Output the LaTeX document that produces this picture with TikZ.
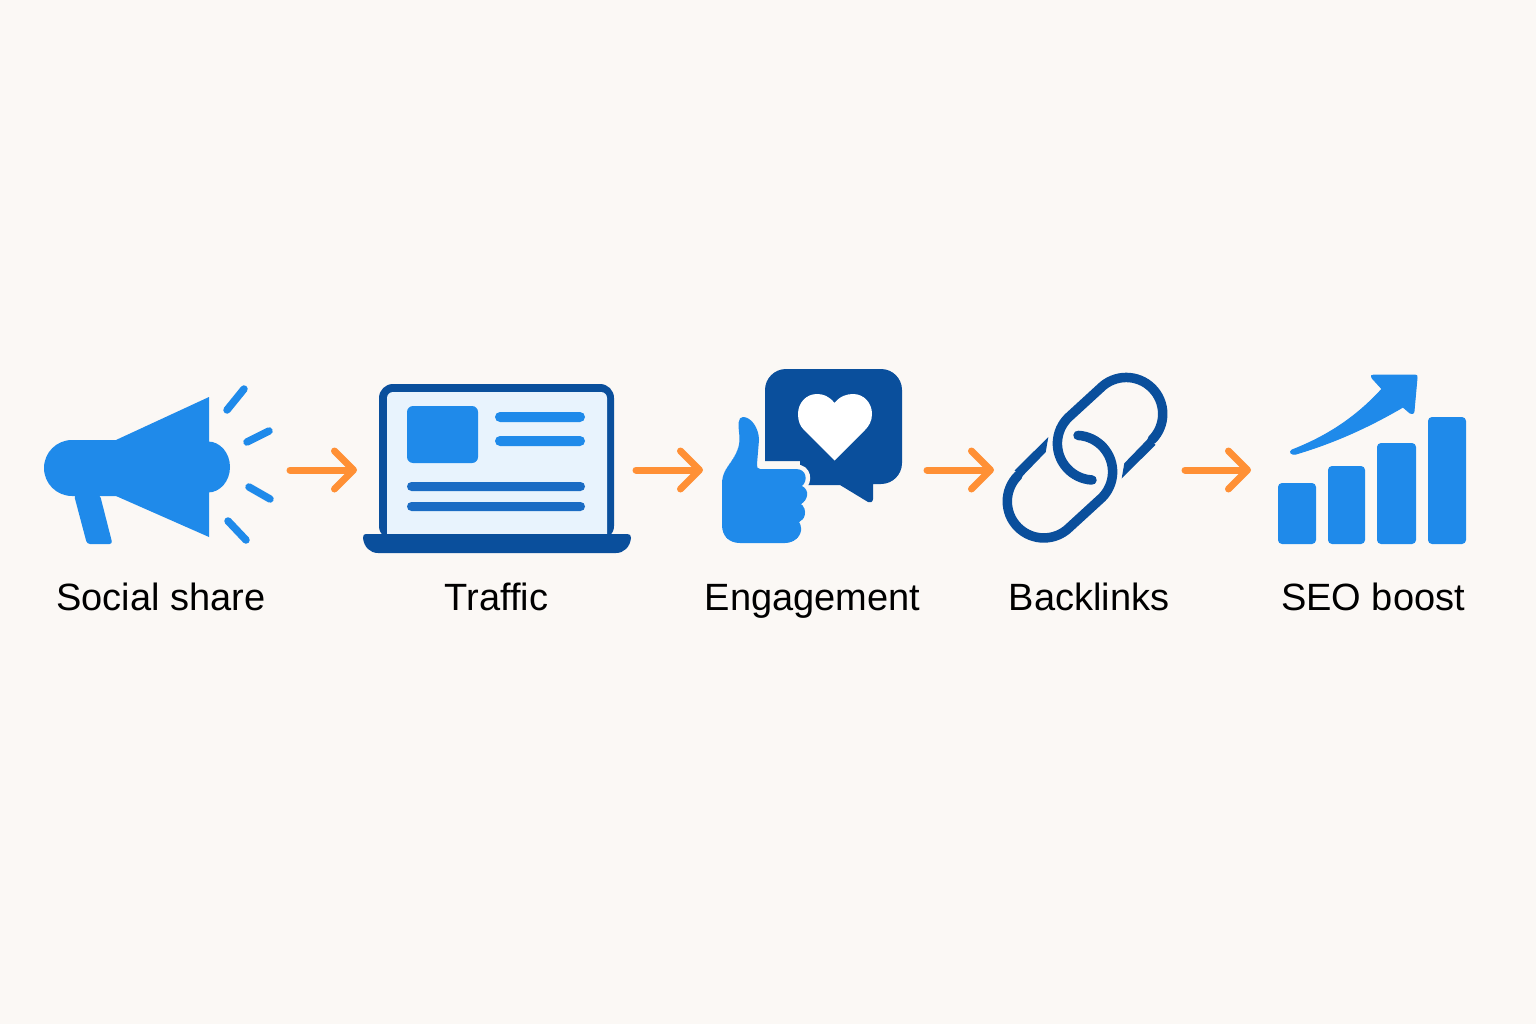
\documentclass[tikz,border=0pt]{standalone}
\usepackage{fontspec}
\setmainfont{Liberation Sans}
\usetikzlibrary{arrows.meta}
\definecolor{bgc}{HTML}{FBF8F5}
\definecolor{blue1}{HTML}{1F8AEA}
\definecolor{blue2}{HTML}{0A4F9C}
\definecolor{blue3}{HTML}{1B6CC4}
\definecolor{screenc}{HTML}{E8F3FD}
\definecolor{orangec}{HTML}{FF9035}
\tikzset{
  iconbox/.style={minimum height=40pt,inner sep=0pt,outer sep=0pt,anchor=west},
  lab/.style={font=\fontsize{38}{38}\selectfont,text=black,anchor=base,inner sep=0pt},
  flow/.style={draw=orangec,line width=7pt,line cap=round,line join=round,-{Straight Barb[length=19pt,width=38pt,round]}},
  ray/.style={draw=blue1,line width=7.5pt,line cap=round},
  linkc/.style={draw=blue2,line width=9.5pt,line cap=round},
}
\newcommand{\linkshape}{%
  \draw[linkc] (1092,480) arc[start angle=93,end angle=225,radius=36.5] -- ++(32.3-25.8+25.8,-29.6+0) arc[start angle=225,end angle=405,radius=36.5];
  \fill[blue2] (1121.7,478.3) -- (1155.5,444.9) -- (1148.7,438.1) -- (1124.3,463.3) -- cycle;
}
\begin{document}
\begin{tikzpicture}[x=1pt,y=1pt,yscale=-1]
\useasboundingbox (0,0) rectangle (1536,1024);
\fill[bgc] (0,0) rectangle (1536,1024);
% invisible icon extents
\node[iconbox,minimum width=230pt] (share) at (43,470) {};
\node[iconbox,minimum width=268pt] (traffic) at (363,470) {};
\node[iconbox,minimum width=182pt] (engage) at (721,470) {};
\node[iconbox,minimum width=166pt] (links) at (1002,470) {};
\node[iconbox,minimum width=189pt] (seo) at (1277,470) {};
% megaphone
\fill[blue1] (117,440) -- (72,440) arc[start angle=270,end angle=90,radius=28] -- (117,496) -- cycle;
\fill[blue1] (116,440) -- (209,397) -- (209,537) -- (116,496) -- cycle;
\fill[blue1] (208,441.5) arc[start angle=-90,end angle=90,x radius=22,y radius=25.5] -- cycle;
\fill[blue1,rounded corners=3pt] (74,495) -- (87,544) -- (112.5,544) -- (100,495) -- cycle;
\draw[ray] (244,389) -- (227,410);
\draw[ray] (269,431) -- (247,442);
\draw[ray] (249,487) -- (270,499);
\draw[ray] (228,521) -- (246,540);
% laptop
\fill[blue2,rounded corners=14pt] (379,540) -- (379,384) -- (614,384) -- (614,540) -- cycle;
\fill[screenc,rounded corners=6pt] (387,540) -- (387,392) -- (607,392) -- (607,540) -- cycle;
\fill[blue1,rounded corners=6pt] (407,406) rectangle (478,463);
\fill[blue1,rounded corners=5pt] (495,412) rectangle (585,422);
\fill[blue1,rounded corners=5pt] (495,436) rectangle (585,446);
\fill[blue3,rounded corners=4.5pt] (407,482) rectangle (585,491);
\fill[blue3,rounded corners=4.5pt] (407,502) rectangle (585,511);
\fill[blue2] (366,534) -- (627,534) .. controls (630,534) and (631,535) .. (631,538)
  .. controls (630,547) and (624,553) .. (616,553) -- (378,553)
  .. controls (370,553) and (364,547) .. (363,538) .. controls (363,535) and (364,534) .. (366,534) -- cycle;
% speech bubble
\fill[blue2] (765,461) -- (765,390) arc[start angle=180,end angle=270,radius=21] -- (881,369)
  arc[start angle=270,end angle=360,radius=21] -- (902,463) arc[start angle=0,end angle=90,radius=21]
  -- (873,484) -- (873,499) .. controls (873,502) and (870,503) .. (868,502) -- (840,485) -- (800,485) -- (800,461) -- cycle;
\fill[white] (834.5,403) .. controls (840,396) and (847,394) .. (853,394)
  .. controls (864,394) and (872,403) .. (872,414) .. controls (872,421) and (869,426) .. (865,430)
  -- (834.5,460.5) -- (804,430) .. controls (800,426) and (798,421) .. (798,414)
  .. controls (798,403) and (806,394) .. (817,394) .. controls (823,394) and (829,396) .. (834.5,403) -- cycle;
% thumb
\path[fill=blue1,draw=bgc,line width=0pt] (743,417) .. controls (738,417) and (738,425) .. (739,432)
  .. controls (741,445) and (737,452) .. (733,459) .. controls (727,468) and (722,473) .. (722,484)
  -- (722,525) .. controls (722,536) and (729,543) .. (740,543) -- (785,543)
  .. controls (795,543) and (802,535) .. (801,528) .. controls (801,525) and (800,524) .. (799,522)
  .. controls (805,520) and (808,510) .. (801,504) .. controls (808,500) and (810,490) .. (802,486)
  .. controls (808,481) and (807,469) .. (796,469) -- (760,469) .. controls (757,469) and (757,467) .. (757,464)
  -- (759,440) .. controls (759,428) and (751,417) .. (743,417) -- cycle;
\draw[bgc,line width=9pt] (757,466) -- (757,469) -- (796,469) .. controls (807,469) and (808,481) .. (802,486);
\path[fill=blue1] (743,417) .. controls (738,417) and (738,425) .. (739,432)
  .. controls (741,445) and (737,452) .. (733,459) .. controls (727,468) and (722,473) .. (722,484)
  -- (722,525) .. controls (722,536) and (729,543) .. (740,543) -- (785,543)
  .. controls (795,543) and (802,535) .. (801,528) .. controls (801,525) and (800,524) .. (799,522)
  .. controls (805,520) and (808,510) .. (801,504) .. controls (808,500) and (810,490) .. (802,486)
  .. controls (808,481) and (807,469) .. (796,469) -- (760,469) .. controls (757,469) and (757,467) .. (757,464)
  -- (759,440) .. controls (759,428) and (751,417) .. (743,417) -- cycle;
% chain
\linkshape
\begin{scope}[rotate around={180:(1085,457.7)}]
\linkshape
\end{scope}
% bars
\fill[blue1,rounded corners=4pt] (1278,483) rectangle (1316,544);
\fill[blue1,rounded corners=4pt] (1328,466) rectangle (1365,544);
\fill[blue1,rounded corners=4pt] (1377,443) rectangle (1416,544);
\fill[blue1,rounded corners=4pt] (1428,417) rectangle (1466,544);
% growth arrow
\fill[blue1,draw=blue1,line width=1pt,line join=round] (1292,450) .. controls (1333,434) and (1360,413) .. (1382,389)
  -- (1372,378) .. controls (1370,376) and (1372,375) .. (1374,375) -- (1415,375)
  .. controls (1417,375) and (1417,376) .. (1417,378) -- (1414,411) .. controls (1414,414) and (1411,414) .. (1410,413)
  -- (1403,407) .. controls (1367,428) and (1333,443) .. (1296,454) .. controls (1291,455) and (1289,452) .. (1292,450) -- cycle;
% connectors
\draw[flow,shorten <=17pt,shorten >=6pt] (share.east) -- (traffic.west);
\draw[flow,shorten <=5pt,shorten >=18pt] (traffic.east) -- (engage.west);
\draw[flow,shorten <=24pt,shorten >=8pt] (engage.east) -- (links.west);
\draw[flow,shorten <=17pt,shorten >=26pt] (links.east) -- (seo.west);
% labels
\node[lab] (l1) at (161,610) {Social share};
\node[lab] (l2) at (496.5,610) {Traffic};
\node[lab] (l3) at (812.5,610) {Engagement};
\node[lab] (l4) at (1089,610) {Backlinks};
\node[lab] (l5) at (1373,610) {SEO boost};
\end{tikzpicture}
\end{document}
